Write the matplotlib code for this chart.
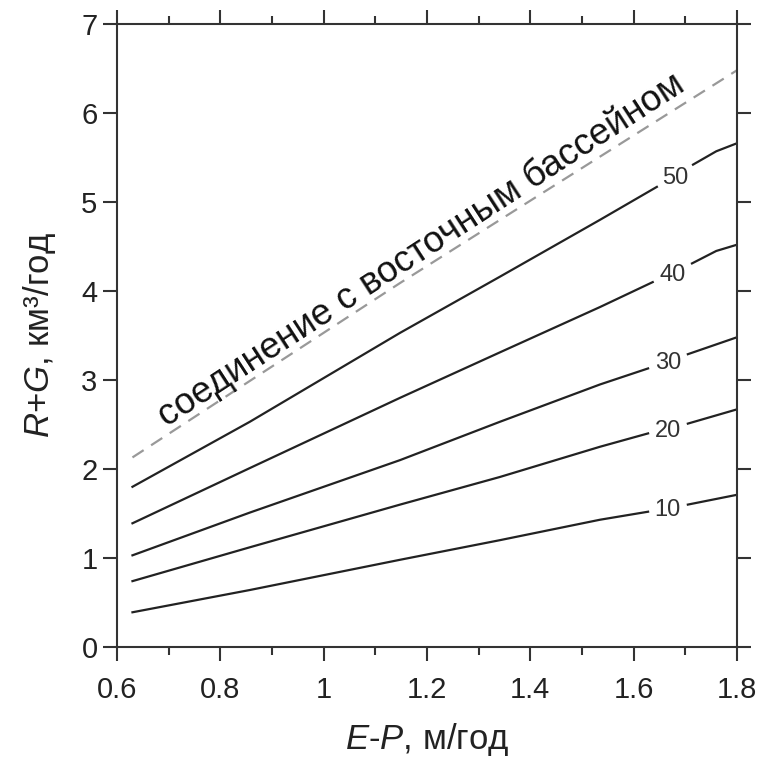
import numpy as np
import matplotlib
matplotlib.use("Agg")
import matplotlib.pyplot as plt
from matplotlib.ticker import MultipleLocator

plt.rcParams['font.family'] = ['Liberation Sans', 'DejaVu Sans']
plt.rcParams['mathtext.fontset'] = 'custom'
plt.rcParams['mathtext.rm'] = 'Liberation Sans'
plt.rcParams['mathtext.it'] = 'Liberation Sans:italic'

# Data: E-P (m/yr) vs R+G (km3/yr), lines of constant value
levels = [10, 20, 30, 40, 50]
x_10 = [0.63, 0.857, 1.148, 1.341, 1.535, 1.628, np.nan, 1.705, 1.8]
y_10 = [0.39, 0.64, 0.98, 1.20, 1.43, 1.52, np.nan, 1.60, 1.71]
x_20 = [0.63, 0.857, 1.148, 1.341, 1.535, 1.628, np.nan, 1.705, 1.8]
y_20 = [0.74, 1.12, 1.60, 1.91, 2.25, 2.40, np.nan, 2.51, 2.67]
x_30 = [0.63, 0.857, 1.148, 1.341, 1.535, 1.628, np.nan, 1.705, 1.8]
y_30 = [1.03, 1.51, 2.10, 2.53, 2.95, 3.13, np.nan, 3.29, 3.48]
x_40 = [0.63, 0.857, 1.148, 1.341, 1.535, 1.637, np.nan, 1.713, 1.76, 1.8]
y_40 = [1.39, 2.01, 2.80, 3.31, 3.82, 4.10, np.nan, 4.31, 4.45, 4.52]
x_50 = [0.63, 0.857, 1.148, 1.341, 1.535, 1.645, np.nan, 1.715, 1.76, 1.8]
y_50 = [1.80, 2.53, 3.53, 4.16, 4.80, 5.17, np.nan, 5.42, 5.57, 5.66]
xs = [x_10, x_20, x_30, x_40, x_50]
ys = [y_10, y_20, y_30, y_40, y_50]

# level label positions (inside the gaps)
label_x = [1.666, 1.666, 1.666, 1.675, 1.68]
label_y = [1.54, 2.43, 3.19, 4.18, 5.27]

# connection with the eastern basin (dashed)
x_conn = [0.63, 1.148, 1.535, 1.8]
y_conn = [2.13, 4.09, 5.51, 6.48]

fig = plt.figure(figsize=(7.67, 7.6), dpi=100)
ax = fig.add_axes([0.1525, 0.1487, 0.8083, 0.8197])

for x, y in zip(xs, ys):
    ax.plot(x, y, color='#222222', lw=1.6)
for lev, lx, ly in zip(levels, label_x, label_y):
    ax.text(lx, ly, str(lev), fontsize=17, color='#333333', ha='center', va='center')

ax.plot(x_conn, y_conn, color='#999999', lw=1.6, dashes=(6, 4))
ax.text(1.19, 4.46, 'соединение с восточным бассейном', fontsize=26.5, rotation=33.0,
        rotation_mode='anchor', ha='center', va='center', color='#111111')

ax.set_xlim(0.6, 1.8)
ax.set_ylim(0, 7)
ax.xaxis.set_major_locator(MultipleLocator(0.2))
ax.xaxis.set_minor_locator(MultipleLocator(0.1))
ax.yaxis.set_major_locator(MultipleLocator(1))
ax.set_xticks([0.6, 0.8, 1.0, 1.2, 1.4, 1.6, 1.8])
ax.set_xticklabels(['0.6', '0.8', '1', '1.2', '1.4', '1.6', '1.8'])

for s in ax.spines.values():
    s.set_linewidth(1.5)
    s.set_color('#333333')
ax.tick_params(which='both', direction='out', top=True, right=True, color='#333333',
               labelsize=21, labelcolor='#222222')
ax.tick_params(which='major', length=10, width=1.5)
ax.tick_params(which='minor', length=6, width=1.5)
ax.tick_params(axis='x', which='major', pad=11)
ax.tick_params(axis='y', which='major', pad=4)

ax.set_xlabel('$E$-$P$, м/год', fontsize=25, color='#222222', labelpad=12)
ax.set_ylabel('$R$+$G$, км³/год', fontsize=25, color='#222222', labelpad=17)

plt.savefig('out.png', dpi=100)
